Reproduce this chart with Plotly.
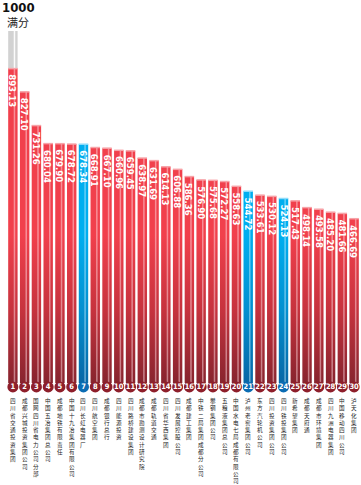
import plotly.graph_objects as go

# ---------------- data ----------------
ranks = list(range(1, 31))
scores = [893.13, 827.10, 731.26, 680.04, 679.90, 678.72, 678.34, 668.91, 667.10, 660.96,
          659.45, 638.97, 631.69, 614.13, 606.88, 586.36, 576.90, 575.68, 572.27, 558.63,
          544.72, 533.61, 530.12, 524.13, 517.43, 498.14, 493.58, 485.20, 481.66, 466.69]
names = ["四川省交通投资集团", "成都兴城投资集团公司", "国网四川省电力公司分部", "中国五冶集团总公司",
         "成都地铁有限责任", "中国十九冶集团有限公司", "四川长虹电器厂", "四川航空集团", "成都银行总行",
         "四川能源投资", "四川路桥建设集团", "成都市勘测设计研究院", "成都轨道交通", "四川省华西集团",
         "四川发展控股公司", "成都建工集团", "中铁二局集团成都分公司", "攀钢集团公司",
         "五粮液集团总公司", "中国水电七局成都有限公司", "泸州老窖集团公司", "东方汽轮机公司",
         "四川投资集团公司", "四川铁投集团公司", "新希望集团", "成都天府通", "成都市环境集团",
         "四川九洲电器集团", "中国移动四川公司", "泸天化集团"]
highlight = [7, 21, 24]
full_score = 1000
title_num = "1000"
title_txt = "满分"

# ---------------- style ----------------
W = 0.8
Y_MIN = -290          # space below the bars for rank circles and names
CIRCLE_Y = -11.4
RED_SCALE = [[0, "#87242e"], [0.5, "#c7333e"], [1, "#f1404c"]]
BLUE_SCALE = [[0, "#0867a6"], [0.5, "#0390d0"], [1, "#00aeef"]]
CIRCLE_RED = "#8e1f2b"
CIRCLE_BLUE = "#0b6cb3"

fig = go.Figure()

def rect(x0, x1, y0, y1):
    return [x0, x1, x1, x0, x0], [y0, y0, y1, y1, y0]

# full-score background on the first bar
xs, ys = rect(ranks[0] - W / 2, ranks[0] + W / 2, scores[0], full_score)
fig.add_trace(go.Scatter(x=xs, y=ys, fill="toself", mode="none", fillcolor="#d2d2d2",
                         hoverinfo="skip", showlegend=False))
xs, ys = rect(ranks[0] + 0.07, ranks[0] + 0.2, scores[0], full_score)
fig.add_trace(go.Scatter(x=xs, y=ys, fill="toself", mode="none", fillcolor="rgba(255,255,255,0.9)",
                         hoverinfo="skip", showlegend=False))

for r, v in zip(ranks, scores):
    blue = r in highlight
    xs, ys = rect(r - W / 2, r + W / 2, 0, v)
    fig.add_trace(go.Scatter(
        x=xs, y=ys, fill="toself", mode="none",
        fillgradient=dict(type="vertical", colorscale=BLUE_SCALE if blue else RED_SCALE,
                          start=0, stop=420),
        hoverinfo="skip", showlegend=False))
    # light stripe
    xs, ys = rect(r + 0.07, r + 0.2, 0, v)
    fig.add_trace(go.Scatter(x=xs, y=ys, fill="toself", mode="none",
                             fillcolor="rgba(255,220,225,0.5)" if not blue else "rgba(200,240,255,0.5)",
                             hoverinfo="skip", showlegend=False))
    # top cap
    fig.add_trace(go.Scatter(x=[r - W / 2, r + W / 2], y=[v, v], mode="lines",
                             line=dict(color="#f7a3a8" if not blue else "#8fdcfa", width=1.5),
                             hoverinfo="skip", showlegend=False))
    # value label
    fig.add_annotation(x=r, y=v, text="<b>%.2f</b>" % v, textangle=90, showarrow=False,
                       xanchor="center", yanchor="top", yshift=-4,
                       font=dict(family="DejaVu Sans Condensed", size=9.5, color="white"))
    # name label (vertical)
    fig.add_annotation(x=r, y=CIRCLE_Y, text="<br>".join(list(names[r - 1])), showarrow=False,
                       xanchor="center", yanchor="top", yshift=-8, align="center",
                       font=dict(family="Noto Sans CJK SC", size=5.6, color="#222222"))

# rank circles
fig.add_trace(go.Scatter(
    x=ranks, y=[CIRCLE_Y] * len(ranks), mode="markers+text",
    marker=dict(size=11, color=[CIRCLE_BLUE if r in highlight else CIRCLE_RED for r in ranks],
                line=dict(width=0)),
    text=["<b>%d</b>" % r for r in ranks], textposition="middle center",
    textfont=dict(family="DejaVu Sans Condensed", size=7.5, color="white"),
    cliponaxis=False, hoverinfo="skip", showlegend=False))

# title
fig.add_annotation(xref="paper", yref="paper", x=0, y=1, xshift=-7, yshift=24, text="<b>%s</b>" % title_num,
                   showarrow=False, xanchor="left", yanchor="middle",
                   font=dict(family="DejaVu Sans Condensed", size=13, color="#111111"))
fig.add_annotation(xref="paper", yref="paper", x=0, y=1, xshift=-2, yshift=9, text=title_txt,
                   showarrow=False, xanchor="left", yanchor="middle",
                   font=dict(family="Noto Sans CJK SC", size=11, color="#222222"))

fig.update_layout(
    width=361, height=485,
    margin=dict(l=7, r=1, t=31, b=0, autoexpand=False),
    paper_bgcolor="white", plot_bgcolor="white",
    xaxis=dict(range=[0.5, 30.5], visible=False, fixedrange=True),
    yaxis=dict(range=[Y_MIN, full_score], visible=False, fixedrange=True),
    showlegend=False,
)

fig.write_html("out.html", config={"displayModeBar": False},
               post_script="document.body.style.margin='0';document.body.style.overflow='hidden';")
